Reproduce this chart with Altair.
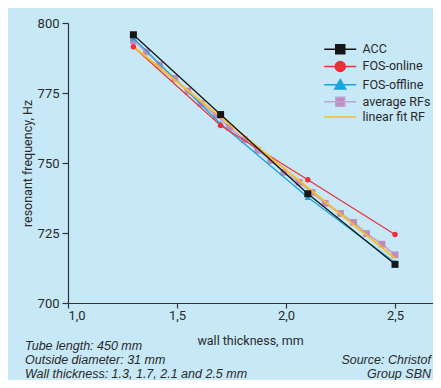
import altair as alt
import pandas as pd

# ---- data ----
thickness = [1.3, 1.7, 2.1, 2.5]
acc = [795.8, 767.3, 739.0, 713.8]
fos_online = [791.5, 763.4, 744.0, 724.5]
fos_offline = [794.6, 764.0, 737.8, 714.5]
avg_thickness = [1.30, 1.36, 1.42, 1.49, 1.55, 1.61, 1.68, 1.74, 1.81, 1.87,
                 1.93, 1.99, 2.06, 2.12, 2.18, 2.25, 2.31, 2.37, 2.44, 2.50]
avg_rf = [793.7, 789.7, 785.0, 780.2, 775.7, 771.2, 767.0, 762.7, 758.3, 754.5,
          750.9, 746.7, 743.1, 739.5, 735.6, 732.0, 728.8, 724.8, 721.0, 717.2]
fit_thickness = [1.3, 2.5]
fit_rf = [791.6, 716.0]

series_names = ["ACC", "FOS-online", "FOS-offline", "average RFs", "linear fit RF"]
y_ticks = [700, 725, 750, 775, 800]
x_ticks = [1.0, 1.5, 2.0, 2.5]
notes_left = ["Tube length: 450 mm", "Outside diameter: 31 mm",
              "Wall thickness: 1.3, 1.7, 2.1 and 2.5 mm"]
source_lines = ["Source: Christof", "Group SBN"]

# ---- styles ----
BG = "#c7e8f7"
C_ACC = "#161616"
C_ON = "#ee2f3a"
C_OFF = "#17a5dc"
C_AVG_LINE = "#bca4d4"
C_AVG_PT = "#c28aba"
C_FIT = "#f8bd2a"
FONT = "Roboto"
TXT = "#2a2a2a"

W, H = 365, 280
PX_PER_MM = 218.0

x_scale = alt.Scale(domain=[1.0, 1.0 + W / PX_PER_MM], nice=False, zero=False)
y_scale = alt.Scale(domain=[700, 800], nice=False, zero=False)

x_axis = alt.Axis(values=x_ticks, grid=False, title="wall thickness, mm",
                  labelExpr="replace(format(datum.value, '.1f'), '.', ',')",
                  tickSize=5, labelPadding=1, titleX=182, titleY=37.5,
                  titleAlign="center", titleBaseline="middle")
y_axis = alt.Axis(values=y_ticks, grid=False, title="resonant frequency, Hz",
                  tickSize=6, labelPadding=3, titleX=-41, titleY=140,
                  titleAngle=-90, titleAlign="center", titleBaseline="middle")

X = alt.X("x:Q", scale=x_scale, axis=x_axis)
Y = alt.Y("y:Q", scale=y_scale, axis=y_axis)


def frame(xs, ys):
    return pd.DataFrame({"x": xs, "y": ys})


def line_layer(df, color, width):
    return alt.Chart(df).mark_line(color=color, strokeWidth=width).encode(x=X, y=Y)


def point_layer(df, color, shape, size):
    return alt.Chart(df).mark_point(filled=True, opacity=1, color=color,
                                    shape=shape, size=size).encode(x=X, y=Y)


df_acc = frame(thickness, acc)
df_on = frame(thickness, fos_online)
df_off = frame(thickness, fos_offline)
df_avg = frame(avg_thickness, avg_rf)
df_fit = frame(fit_thickness, fit_rf)

# legend-only layer (invisible points) with line+marker symbols
leg_df = pd.DataFrame({
    "series": series_names,
    "x": [thickness[0]] * 4 + [fit_thickness[0]],
    "y": [acc[0], fos_online[0], fos_offline[0], avg_rf[0], fit_rf[0]],
})
LINE = "M-3.2,0L3.2,0"
legend_paths = [
    LINE + "M-0.9,-0.9L0.9,-0.9L0.9,0.9L-0.9,0.9Z",
    LINE + "M-1,0A1,1,0,1,1,1,0A1,1,0,1,1,-1,0Z",
    LINE + "M0,-1.05L1.1,0.85L-1.1,0.85Z",
    LINE + "M-0.9,-0.9L0.9,-0.9L0.9,0.9L-0.9,0.9Z",
    LINE,
]
legend_fill = [C_ACC, C_ON, C_OFF, C_AVG_PT, C_FIT]
legend_stroke = [C_ACC, C_ON, C_OFF, C_AVG_LINE, C_FIT]

leg = alt.Legend(title=None, orient="none", legendX=266, legendY=20,
                 symbolSize=100, symbolStrokeWidth=1.5, symbolFillColor="black",
                 labelFont=FONT, labelFontSize=12.5, labelColor=TXT, labelOffset=16,
                 rowPadding=1.2, padding=0)

legend_layer = alt.Chart(leg_df).mark_point(filled=True, opacity=0, size=100).encode(
    x=X, y=Y,
    fill=alt.Fill("series:N", scale=alt.Scale(domain=series_names, range=legend_fill), legend=leg),
    stroke=alt.Stroke("series:N", scale=alt.Scale(domain=series_names, range=legend_stroke), legend=leg),
    shape=alt.Shape("series:N", scale=alt.Scale(domain=series_names, range=legend_paths), legend=leg),
)

one = pd.DataFrame({"k": [0]})
text_layers = []
note_y = [323, 337, 351]
for t, yy in zip(notes_left, note_y):
    text_layers.append(
        alt.Chart(one).mark_text(align="left", baseline="middle", font="Liberation Sans",
                                 fontStyle="italic", fontSize=12.5, color=TXT)
        .encode(x=alt.value(-43), y=alt.value(yy), text=alt.value(t))
    )
for t, yy in zip(source_lines, note_y[1:]):
    text_layers.append(
        alt.Chart(one).mark_text(align="right", baseline="middle", font="Liberation Sans",
                                 fontStyle="italic", fontSize=12.5, color=TXT)
        .encode(x=alt.value(W - 2), y=alt.value(yy), text=alt.value(t))
    )

chart = alt.layer(
    line_layer(df_avg, C_AVG_LINE, 1.5),
    point_layer(df_avg, C_AVG_PT, "square", 45),
    line_layer(df_off, C_OFF, 1.3),
    line_layer(df_on, C_ON, 1.2),
    line_layer(df_fit, C_FIT, 2),
    line_layer(df_acc, C_ACC, 1.3),
    point_layer(df_off, C_OFF, "triangle-up", 40),
    point_layer(df_on, C_ON, "circle", 30),
    point_layer(df_acc, C_ACC, "square", 49),
    legend_layer,
    *text_layers,
).properties(
    width=W, height=H,
    autosize=alt.AutoSizeParams(type="none"),
    padding={"left": 60, "top": 15, "right": 0, "bottom": 77},
    background=BG,
).configure_view(stroke=None).configure_axis(
    domainColor="#333", domainWidth=1.2, tickColor="#333", tickWidth=1.2,
    labelFont=FONT, labelFontSize=13, labelColor=TXT,
    titleFont=FONT, titleFontSize=12.5, titleFontWeight="normal", titleColor=TXT,
)

chart.save("out.html", embed_options={"renderer": "svg", "actions": False})
